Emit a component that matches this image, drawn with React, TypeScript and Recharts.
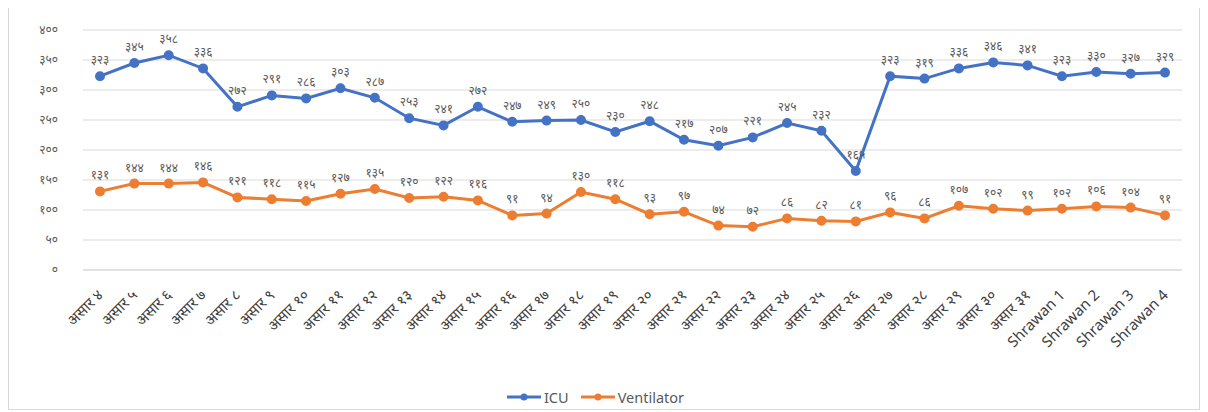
import React from "react";
import { LineChart, Line, XAxis, YAxis, CartesianGrid, Legend, LabelList } from "recharts";

const days = ["४", "५", "६", "७", "८", "९", "१०", "११", "१२", "१३", "१४", "१५", "१६", "१७", "१८", "१९", "२०", "२१", "२२", "२३", "२४", "२५", "२६", "२७", "२८", "२९", "३०", "३१"];
const categories = [...days.map((d) => `असार ${d}`), "Shrawan 1", "Shrawan 2", "Shrawan 3", "Shrawan 4"];

const icu = [323, 345, 358, 336, 272, 291, 286, 303, 287, 253, 241, 272, 247, 249, 250, 230, 248, 217, 207, 221, 245, 232, 165, 323, 319, 336, 346, 341, 323, 330, 327, 329];
const ventilator = [131, 144, 144, 146, 121, 118, 115, 127, 135, 120, 122, 116, 91, 94, 130, 118, 93, 97, 74, 72, 86, 82, 81, 96, 86, 107, 102, 99, 102, 106, 104, 91];

const yTicks = [0, 50, 100, 150, 200, 250, 300, 350, 400];

const data = categories.map((name, i) => ({ name, ICU: icu[i], Ventilator: ventilator[i] }));

// devanagari digits for labels and ticks
const toNep = (v: number | string) => String(v).replace(/\d/g, (d) => "०१२३४५६७८९"[+d]);

const FONT = "'Noto Sans', 'Noto Sans Devanagari', sans-serif";

const XTick = ({ x, y, payload }: any) => {
  const tx = x + 4;
  const ty = y + 24;
  return (
    <text x={tx} y={ty} transform={`rotate(-45, ${tx}, ${ty})`} textAnchor="end" fontSize={15} fill="#404040" fontFamily={FONT}>
      {payload.value}
    </text>
  );
};

const PointLabel = ({ x, y, value }: any) => (
  <text x={x} y={y - 12} textAnchor="middle" fontSize={12} fill="#595959" fontFamily={FONT}>
    {toNep(value)}
  </text>
);

const LegendContent = () => (
  <div style={{ display: "flex", justifyContent: "center", gap: 12, fontFamily: FONT, fontSize: 14.5, color: "#595959" }}>
    {[
      { name: "ICU", color: "#4472C4" },
      { name: "Ventilator", color: "#ED7D31" },
    ].map((s) => (
      <div key={s.name} style={{ display: "flex", alignItems: "center", gap: 3 }}>
        <svg width={34} height={10}>
          <line x1={0} y1={5} x2={34} y2={5} stroke={s.color} strokeWidth={3} />
          <circle cx={17} cy={5} r={3.5} fill={s.color} />
        </svg>
        <span>{s.name}</span>
      </div>
    ))}
  </div>
);

export default function App() {
  return (
    <div style={{ marginTop: -6, width: 1192, height: 408, border: "1px solid #d9d9d9", boxSizing: "border-box", background: "#fff" }}>
      <LineChart width={1190} height={404} data={data} margin={{ top: 27, right: 17, left: 0, bottom: 0 }}>
        <CartesianGrid vertical={false} stroke="#d9d9d9" />
        <XAxis
          dataKey="name"
          interval={0}
          height={117}
          padding={{ left: 17, right: 17 }}
          axisLine={{ stroke: "#d9d9d9" }}
          tickLine={false}
          tickSize={0}
          tick={<XTick />}
        />
        <YAxis
          domain={[0, 400]}
          ticks={yTicks}
          width={74}
          axisLine={false}
          tickLine={false}
          tickSize={0}
          tickMargin={25}
          tickFormatter={toNep}
          tick={{ fontSize: 12, fill: "#595959", fontFamily: FONT }}
        />
        <Legend verticalAlign="bottom" height={20} content={<LegendContent />} />
        <Line
          dataKey="ICU"
          stroke="#4472C4"
          strokeWidth={3}
          dot={{ r: 3.5, fill: "#4472C4", stroke: "#4472C4" }}
          isAnimationActive={false}
        >
          <LabelList dataKey="ICU" content={<PointLabel />} />
        </Line>
        <Line
          dataKey="Ventilator"
          stroke="#ED7D31"
          strokeWidth={3}
          dot={{ r: 3.5, fill: "#ED7D31", stroke: "#ED7D31" }}
          isAnimationActive={false}
        >
          <LabelList dataKey="Ventilator" content={<PointLabel />} />
        </Line>
      </LineChart>
    </div>
  );
}
